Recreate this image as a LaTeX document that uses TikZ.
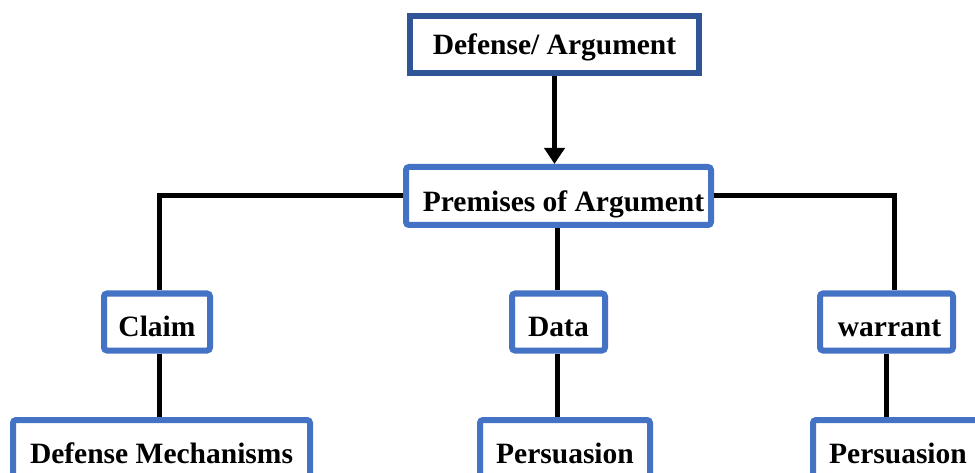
\documentclass[tikz,border=0pt]{standalone}
\usepackage{fontspec}
\setmainfont{Liberation Serif}
\usetikzlibrary{arrows.meta}

\definecolor{darkblue}{HTML}{2F5597}
\definecolor{boxblue}{HTML}{4472C4}

\tikzset{
  box/.style={draw=boxblue, line width=6pt, fill=white, rounded corners=3pt,
    minimum height=57pt, inner sep=0pt, text height=24pt, text depth=0pt,
    font=\fontsize{29.5}{32}\selectfont\bfseries},
  topbox/.style={box, draw=darkblue, rounded corners=0pt, text height=20pt},
  link/.style={line width=5pt, black}
}

\begin{document}
\begin{tikzpicture}[x=1pt,y=-1pt]
\useasboundingbox (0,0) rectangle (975,473);
\clip (0,0) rectangle (975,473);

% top of the tree
\node[topbox, minimum width=289pt] (defarg) at (554.5,45) {Defense/ Argument};
\node[box, minimum width=305pt, minimum height=58pt, text height=32pt] (premises) at (558.5,196) {\hspace*{10pt}Premises of Argument};

% middle row
\node[box, minimum width=106pt, text height=28pt] (claim) at (157,322) {Claim};
\node[box, minimum width=93pt, text height=28pt] (data) at (558.5,322) {Data};
\node[box, minimum width=133pt, text height=28pt] (warrant) at (886.5,322) {\hspace*{6pt}warrant};

% bottom row (cut by the page)
\node[box, minimum width=297pt, minimum height=58pt, text height=28pt] (defmech) at (161.5,449) {Defense Mechanisms};
\node[box, minimum width=170pt, minimum height=58pt, text height=28pt] (pers1) at (565,449) {Persuasion};
\node[box, minimum width=170pt, minimum height=58pt, text height=28pt] (pers2) at (898,449) {Persuasion};

\draw[link, -{Triangle[width=20pt,length=16pt]}] (defarg.south) -- (defarg.south |- premises.north);
\draw[link] (premises.west) -| ([xshift=2pt]claim.north);
\draw[link] (premises.east) -| ([xshift=8pt]warrant.north);
\draw[link] ([xshift=-1.5pt]premises.south) -- ([xshift=-1.5pt]data.north);
\draw[link] ([xshift=2pt]claim.south) -- ([xshift=2pt]claim.south |- defmech.north);
\draw[link] ([xshift=-1.5pt]data.south) -- ([xshift=-1.5pt]data.south |- pers1.north);
\draw[link] (warrant.south) -- (warrant.south |- pers2.north);

\end{tikzpicture}
\end{document}
